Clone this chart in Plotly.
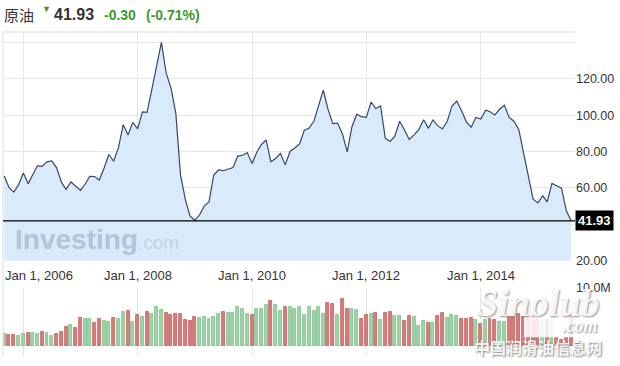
import plotly.graph_objects as go
import pandas as pd

# ---------------- data ----------------
months = pd.date_range("2005-09-01", periods=120, freq="MS")

price = [
    66.6, 60.3, 57.7, 61.7, 68.2, 62.3, 67.1, 72.2, 71.9, 74.4,
    74.9, 71.2, 63.2, 59.2, 63.3, 61.2, 58.7, 62.3, 66.4, 66.3,
    64.4, 71.0, 78.4, 74.7, 82.3, 94.8, 89.2, 96.1, 92.5, 101.9,
    101.6, 114.2, 127.8, 140.1, 123.3, 115.1, 101.0, 67.1, 53.6, 44.5,
    42.2, 45.4, 50.0, 52.3, 67.1, 69.9, 69.5, 70.4, 71.2, 77.5,
    78.0, 79.5, 73.5, 79.8, 83.8, 86.4, 74.4, 76.2, 79.1, 72.7,
    80.2, 82.0, 84.3, 91.8, 93.0, 97.0, 105.1, 113.8, 103.3, 95.4,
    95.7, 89.8, 79.8, 93.7, 100.6, 99.2, 98.8, 107.3, 103.7, 105.1,
    87.4, 85.6, 88.5, 96.7, 91.9, 86.7, 89.2, 92.1, 97.5, 92.8,
    97.4, 94.3, 92.5, 96.7, 105.1, 107.8, 102.4, 96.4, 93.4, 98.8,
    97.9, 102.8, 101.9, 100.2, 103.3, 105.5, 98.8, 96.7, 92.1, 80.0,
    66.0, 54.0, 51.8, 55.7, 52.3, 62.5, 61.2, 59.9, 47.6, 41.93,
]

volume_m = [
    2.06, 1.89, 1.89, 1.71, 2.06, 2.23, 2.23, 2.06, 2.40, 2.23,
    1.71, 2.06, 2.40, 3.31, 3.60, 3.09, 4.86, 4.63, 4.63, 3.94,
    4.63, 4.29, 4.17, 4.86, 4.63, 5.83, 6.00, 4.17, 5.31, 5.03,
    5.83, 5.49, 6.69, 6.17, 5.66, 5.31, 5.49, 5.49, 4.46, 4.29,
    5.03, 4.86, 5.03, 4.69, 5.03, 5.49, 5.83, 5.66, 5.66, 6.69,
    6.34, 5.49, 5.31, 6.34, 6.34, 7.03, 7.71, 7.03, 6.00, 6.69,
    6.69, 6.34, 6.69, 5.31, 6.69, 6.00, 6.69, 5.49, 7.37, 7.20,
    5.31, 8.06, 6.34, 6.34, 6.17, 4.63, 5.31, 5.49, 5.66, 4.46,
    5.66, 5.89, 5.20, 5.09, 4.34, 5.20, 5.03, 3.49, 4.34, 4.00,
    4.00, 5.20, 5.71, 4.86, 5.37, 5.20, 4.69, 4.69, 4.86, 4.46,
    3.71, 4.46, 4.69, 4.46, 4.17, 4.17, 5.03, 4.91, 5.49, 5.00,
    5.00, 5.00, 4.50, 4.50, 4.50, 4.50, 1.30, 1.00, 1.30, 5.00,
]

tick_dates = ["2006-01-01", "2008-01-01", "2010-01-01", "2012-01-01", "2014-01-01"]
tick_labels = ["Jan 1, 2006", "Jan 1, 2008", "Jan 1, 2010", "Jan 1, 2012", "Jan 1, 2014"]
price_ticks = [20, 40, 60, 80, 100, 120, 140]
price_tick_text = ["20.00", "", "60.00", "80.00", "100.00", "120.00", ""]
vol_ticks = [0, 10]
vol_tick_text = ["0", "10.0M"]

instrument = "原油"
last_price = 41.93
change = -0.30
change_pct = -0.71

# ---------------- styling ----------------
W, H = 620, 366
ML, MR, MT, MB = 3, 45, 32, 6
PW, PH = W - ML - MR, H - MT - MB
GREEN_TXT = "#3a9a2c"
FONT = "Liberation Sans, Arial, sans-serif"
GRID = "#e6e6e6"


def px(xp):
    return (xp - ML) / PW


def py(yp):
    return (H - MB - yp) / PH


up_fill, dn_fill = "#9dd4a9", "#d77c7c"
up_line, dn_line = "#7dbf8c", "#c55f5f"
bar_fill, bar_line = [], []
for i, p in enumerate(price):
    up = i == 0 or p >= price[i - 1]
    bar_fill.append(up_fill if up else dn_fill)
    bar_line.append(up_line if up else dn_line)

fig = go.Figure()
fig.add_trace(go.Scatter(
    x=months, y=price, mode="lines",
    line=dict(color="#39476a", width=1.2),
    fill="tozeroy", fillcolor="#d9eafb",
    xaxis="x", yaxis="y", hoverinfo="skip",
))
fig.add_trace(go.Bar(
    x=months, y=volume_m,
    marker=dict(color=bar_fill, line=dict(color=bar_line, width=0.8)),
    width=19 * 86400000,
    xaxis="x2", yaxis="y2", hoverinfo="skip",
))

x_range = ["2005-08-24", "2015-08-26"]
axis_common = dict(showgrid=True, gridcolor=GRID, gridwidth=1, zeroline=False,
                   showline=False, ticks="")

fig.update_layout(
    width=W, height=H,
    margin=dict(l=ML, r=MR, t=MT, b=MB),
    paper_bgcolor="white", plot_bgcolor="white",
    showlegend=False, bargap=0,
    font=dict(family=FONT, color="#333333", size=12),
    xaxis=dict(domain=[0, 1], anchor="y", range=x_range, type="date",
               tickvals=tick_dates, showticklabels=False, **axis_common),
    xaxis2=dict(domain=[0, 1], anchor="y2", matches="x", type="date",
                tickvals=tick_dates, showticklabels=False, **axis_common),
    yaxis=dict(domain=[py(263.5), 1], range=[20, 145.8], side="right",
               tickvals=price_ticks, ticktext=price_tick_text,
               tickfont=dict(size=12.5, color="#333333"), **axis_common),
    yaxis2=dict(domain=[0, py(291)], range=[-1.83, 10], side="right",
                tickvals=vol_ticks, ticktext=vol_tick_text,
                tickfont=dict(size=12.5, color="#333333"), **axis_common),
)

shapes = [
    # panel top border and left edge
    dict(type="line", xref="paper", yref="paper", x0=0, x1=1, y0=1, y1=1,
         line=dict(color="#dddddd", width=1)),
    dict(type="line", xref="paper", yref="paper", x0=0, x1=0, y0=0, y1=1,
         line=dict(color="#dddddd", width=1)),
    # last price line
    dict(type="line", xref="x domain", yref="y", x0=0, x1=1,
         y0=last_price, y1=last_price, line=dict(color="#000000", width=1.3)),
    # white badge of the Sinolub watermark
    dict(type="rect", xref="paper", yref="paper", x0=px(524), x1=px(601),
         y0=py(341), y1=py(320), fillcolor="rgba(255,255,255,0.85)",
         line=dict(width=0), layer="above"),
]
fig.update_layout(shapes=shapes)

ann = []
# header
ann.append(dict(text=instrument, xref="paper", yref="paper", x=px(2), y=py(14),
                xanchor="left", yanchor="middle", showarrow=False,
                font=dict(family="Noto Sans CJK SC", size=15, color="#333333")))
ann.append(dict(text="▼", xref="paper", yref="paper", x=px(40), y=py(9),
                xanchor="left", yanchor="middle", showarrow=False,
                font=dict(family=FONT, size=9, color=GREEN_TXT)))
ann.append(dict(text=f"<b>{last_price:.2f}</b>", xref="paper", yref="paper",
                x=px(52), y=py(14), xanchor="left", yanchor="middle", showarrow=False,
                font=dict(family=FONT, size=16, color="#333333")))
ann.append(dict(text=f"<b>{change:.2f}</b>", xref="paper", yref="paper",
                x=px(102), y=py(15), xanchor="left", yanchor="middle", showarrow=False,
                font=dict(family=FONT, size=14, color=GREEN_TXT)))
ann.append(dict(text=f"<b>({change_pct:.2f}%)</b>", xref="paper", yref="paper",
                x=px(144), y=py(15), xanchor="left", yanchor="middle", showarrow=False,
                font=dict(family=FONT, size=14, color=GREEN_TXT)))

# last price tag
ann.append(dict(text=f"<b>{last_price:.2f}</b>", xref="x domain", yref="y",
                x=1, y=last_price, xanchor="left", yanchor="middle", showarrow=False,
                bgcolor="#000000", borderpad=2,
                font=dict(family=FONT, size=13, color="#ffffff")))

# date labels between the panels
for i, (d, t) in enumerate(zip(tick_dates, tick_labels)):
    if i == 0:
        ann.append(dict(text=t, xref="x domain", yref="paper", x=0, y=py(279),
                        xanchor="left", yanchor="middle", showarrow=False,
                        font=dict(family=FONT, size=13, color="#333333")))
    else:
        ann.append(dict(text=t, xref="x", yref="paper", x=d, y=py(279),
                        xanchor="center", yanchor="middle", showarrow=False,
                        font=dict(family=FONT, size=13, color="#333333")))

# Investing.com watermark
ann.append(dict(text="<b>Investing</b><span style='font-size:19px;font-weight:normal;color:#c3d1e2'>.com</span>",
                xref="paper", yref="paper", x=px(13), y=py(242),
                xanchor="left", yanchor="middle", showarrow=False,
                font=dict(family=FONT, size=28, color="#b3c3d8")))

# Sinolub watermark
ann.append(dict(text="<b><i>Sinolub</i></b>", xref="paper", yref="paper",
                x=px(538), y=py(306), xanchor="center", yanchor="middle", showarrow=False,
                font=dict(family="Liberation Serif, serif", size=38, color="rgba(255,255,255,0.92)",
                          shadow="1px 1px 2px #888888")))
ann.append(dict(text="<b><i>.com</i></b>", xref="paper", yref="paper",
                x=px(580), y=py(330), xanchor="center", yanchor="middle", showarrow=False,
                font=dict(family="Liberation Serif, serif", size=18, color="rgba(255,255,255,0.95)",
                          shadow="1px 1px 2px #888888")))
ann.append(dict(text="<b>中国润滑油信息网</b>", xref="paper", yref="paper",
                x=px(538), y=py(351), xanchor="center", yanchor="middle", showarrow=False,
                font=dict(family="Noto Sans CJK SC", size=16, color="rgba(255,255,255,0.9)",
                          shadow="1px 1px 2px #777777")))

fig.update_layout(annotations=ann)

fig.write_html("out.html", config={"displayModeBar": False},
               post_script="document.body.style.margin='0';")
